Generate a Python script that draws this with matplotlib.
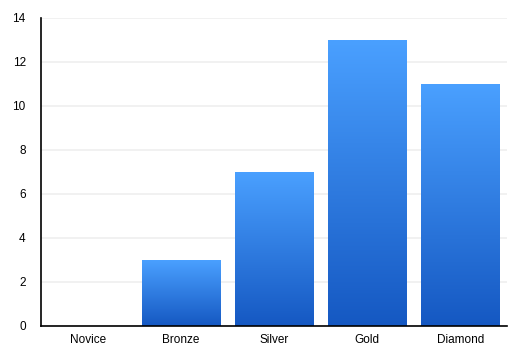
import matplotlib
matplotlib.use("Agg")
import matplotlib.pyplot as plt
import numpy as np
from matplotlib.colors import LinearSegmentedColormap

categories = ["Novice", "Bronze", "Silver", "Gold", "Diamond"]
values = [0, 3, 7, 13, 11]
yticks = [0, 2, 4, 6, 8, 10, 12, 14]

plt.rcParams['font.family'] = ['Liberation Sans', 'DejaVu Sans']

fig = plt.figure(figsize=(5.21, 3.54), dpi=100)
ax = fig.add_axes([41/521, 28/354, 466/521, 308/354])

cmap = LinearSegmentedColormap.from_list("g", ["#1558c2", "#4aa0ff"])
width = 0.84
x = np.arange(len(categories))
bars = ax.bar(x, values, width=width, color="none", zorder=2)
grad = np.linspace(0, 1, 256).reshape(-1, 1)
for b in bars:
    h = b.get_height()
    if h <= 0:
        continue
    x0 = b.get_x()
    ax.imshow(grad, cmap=cmap, origin="lower", aspect="auto",
              extent=[x0, x0 + b.get_width(), 0, h], zorder=2,
              interpolation="bilinear")

ax.set_xlim(-0.5, len(categories) - 0.5)
ax.set_ylim(0, 14)
ax.set_yticks(yticks)
ax.set_xticks(x)
ax.set_xticklabels(categories)
ax.yaxis.grid(True, color="#efefef", linewidth=1.2, zorder=0)
ax.set_axisbelow(True)
for s in ["top", "right"]:
    ax.spines[s].set_visible(False)
for s in ["left", "bottom"]:
    ax.spines[s].set_color("black")
    ax.spines[s].set_linewidth(1.2)
    ax.spines[s].set_zorder(3)
ax.tick_params(axis="both", length=0, labelsize=8.5, colors="black")
ax.tick_params(axis="y", pad=11)
ax.tick_params(axis="x", pad=6)

fig.savefig("out.png", dpi=100)
